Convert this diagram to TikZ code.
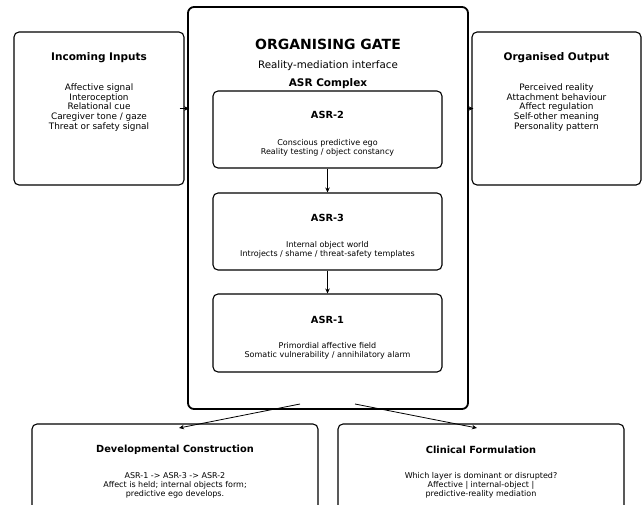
\documentclass[tikz,border=0pt]{standalone}
\usepackage{fontspec}
\setmainfont{DejaVu Sans}
\usetikzlibrary{positioning,arrows.meta}

\begin{document}
\begin{tikzpicture}[x=1pt, y=-1pt,
  panel/.style={draw, rounded corners=5pt, line width=1.1pt, inner sep=0pt},
  heading/.style={font=\bfseries\fontsize{10.5}{12}\selectfont},
  subheading/.style={font=\bfseries\fontsize{9.8}{12}\selectfont},
  bigtext/.style={align=center, font=\fontsize{8.9}{9.8}\selectfont},
  smalltext/.style={align=center, font=\fontsize{8}{9}\selectfont},
  flow/.style={-{Stealth[length=5pt,width=4.5pt]}, line width=0.8pt}]
\useasboundingbox (0,0) rectangle (642,504);
\node[panel, line width=1.8pt, rounded corners=6pt, minimum width=280, minimum height=402] (gate) at (328,208) {};
\node[panel, minimum width=170, minimum height=153] (inputs) at (99,108.5) {};
\node[panel, minimum width=169, minimum height=153] (output) at (556.5,108.5) {};
\node[panel, minimum width=229, minimum height=77] (asr2) at (327.5,129.5) {};
\node[panel, minimum width=229, minimum height=77] (asr3) at (327.5,231.5) {};
\node[panel, minimum width=229, minimum height=78] (asr1) at (327.5,333) {};
\node[panel, minimum width=286, minimum height=88] (dev) at (175,468) {};
\node[panel, minimum width=286, minimum height=88] (clin) at (481,468) {};
\node[font=\bfseries\fontsize{14}{16}\selectfont] (gate-title) at (328,44) {ORGANISING GATE};
\node[font=\fontsize{10.3}{12}\selectfont] (gate-sub) at (328,66) {Reality-mediation interface};
\node[heading] (complex) at (328,84) {ASR Complex};
\node[heading] (inputs-title) at (99,58) {Incoming Inputs};
\node[bigtext] (inputs-text) at (99,107.5) {Affective signal\\Interoception\\Relational cue\\Caregiver tone / gaze\\Threat or safety signal};
\node[heading] (output-title) at (556.5,58) {Organised Output};
\node[bigtext] (output-text) at (556.5,107.5) {Perceived reality\\Attachment behaviour\\Affect regulation\\Self-other meaning\\Personality pattern};
\node[subheading] (asr2-title) at (327.5,115) {ASR-2};
\node[smalltext] (asr2-text) at (327.5,147.5) {Conscious predictive ego\\Reality testing / object constancy};
\node[subheading] (asr3-title) at (327.5,218) {ASR-3};
\node[smalltext] (asr3-text) at (327.5,249.5) {Internal object world\\Introjects / shame / threat-safety templates};
\node[subheading] (asr1-title) at (327.5,320) {ASR-1};
\node[smalltext] (asr1-text) at (327.5,350.5) {Primordial affective field\\Somatic vulnerability / annihilatory alarm};
\node[subheading] (dev-title) at (175,450) {Developmental Construction};
\node[smalltext] (dev-text) at (175,485) {ASR-1 -> ASR-3 -> ASR-2\\Affect is held; internal objects form;\\predictive ego develops.};
\node[subheading] (clin-title) at (481,450) {Clinical Formulation};
\node[smalltext] (clin-text) at (481,485) {Which layer is dominant or disrupted?\\Affective | internal-object |\\predictive-reality mediation};
\coordinate (gate-l) at (300,404);
\coordinate (gate-r) at (355,404);
\coordinate (dev-in) at (179,428);
\coordinate (clin-in) at (477,428);
\draw[flow, shorten <=-5pt, shorten >=-2pt] (inputs.east) -- (gate.west |- inputs.east);
\draw[flow, shorten <=-2pt, shorten >=-2pt] (gate.east |- output.west) -- (output.west);
\draw[flow] (asr2.south) -- (asr3.north);
\draw[flow] (asr3.south) -- (asr1.north);
\draw[flow] (gate-l) -- (dev-in);
\draw[flow] (gate-r) -- (clin-in);
\end{tikzpicture}
\end{document}
